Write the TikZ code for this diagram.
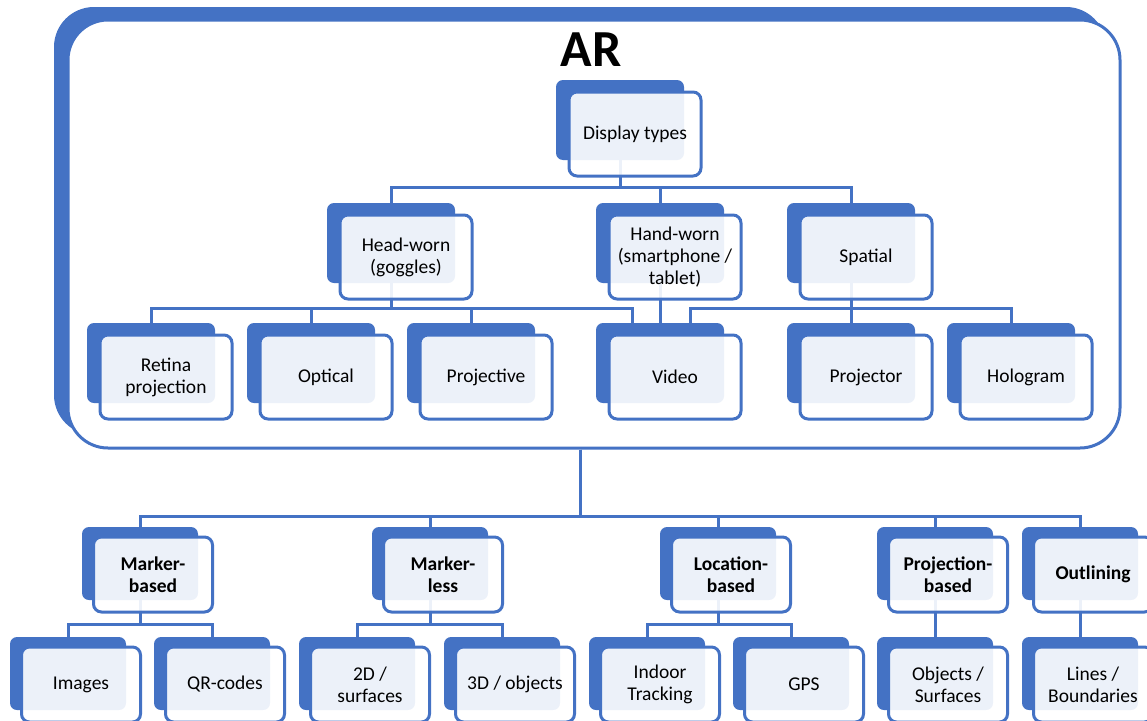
\documentclass[tikz,border=0pt]{standalone}
\usepackage{fontspec}
\setmainfont{Carlito}
\usetikzlibrary{positioning}
\definecolor{arblue}{HTML}{4472C4}
\tikzset{
  backtile/.style={rectangle, rounded corners=7, fill=arblue, inner sep=0,
                   minimum width=128, minimum height=80},
  fronttile/.style={rectangle, rounded corners=8, draw=arblue, line width=3,
                    fill=white, fill opacity=0.9, text opacity=1, inner sep=0,
                    minimum width=132, minimum height=84, align=center,
                    font=\fontsize{19.5}{22}\selectfont},
  smallback/.style={backtile, minimum width=116, minimum height=73},
  smallfront/.style={fronttile, minimum width=119, minimum height=75},
  boldtext/.style={font=\fontsize{19.5}{22}\selectfont\bfseries},
  link/.style={draw=arblue, line width=3}
}
\begin{document}
\begin{tikzpicture}[x=1pt, y=-1pt]
\useasboundingbox (0,0) rectangle (1147,720);
% the big AR frame
\node[rectangle, rounded corners=40, fill=arblue, minimum width=1052,
      minimum height=428] (arback) at (580,221) {};
\node[rectangle, rounded corners=40, fill=white, draw=arblue, line width=3,
      minimum width=1052, minimum height=428] (ar) at (594,234) {};
\node[font=\fontsize{52}{52}\selectfont\bfseries] (title) at (591,50) {AR};
% back tiles
\foreach \n/\x/\y in {disp/620/120, head/391/243, hand/660/243, spat/851/243,
                      retina/151/363, optic/311/363, projv/471/363,
                      video/660/363, projr/851/363, holo/1011/363}
  \node[backtile] (\n) at (\x,\y) {};
\foreach \n/\x/\y in {mbased/140/563.5, mless/430/563.5, lbased/718/563.5,
                      pbased/935/563.5, outl/1080/563.5,
                      images/68/673.5, qr/212/673.5, surf/357/673.5,
                      objs/502/673.5, indoor/647/673.5, gps/791/673.5,
                      objsurf/935/673.5, lines/1080/673.5}
  \node[smallback] (\n) at (\x,\y) {};
% connectors, display types
\foreach \c in {head, hand, spat}
  \draw[link] (disp.south) -- ++(0,27) -| (\c.north);
\foreach \c in {retina, optic, projv}
  \draw[link] (head.south) -- ++(0,25) -| (\c.north);
\draw[link] (head.south) -- ++(0,25) -| ([xshift=-28]video.north);
\draw[link] (hand.south) -- (video.north);
\draw[link] (spat.south) -- (projr.north);
\draw[link] (spat.south) -- ++(0,25) -| (holo.north);
\draw[link] (spat.south) -- ++(0,25) -| ([xshift=30]video.north);
% connectors, tracking
\foreach \c in {mbased, mless, lbased, pbased, outl}
  \draw[link] (arback.south |- ar.south) -- ++(0,67) -| (\c.north);
\foreach \p/\c in {mbased/images, mbased/qr, mless/surf, mless/objs,
                   lbased/indoor, lbased/gps}
  \draw[link] (\p.south) -- ++(0,24) -| (\c.north);
\draw[link] (pbased.south) -- (objsurf.north);
\draw[link] (outl.south) -- (lines.north);
% front tiles
\node[fronttile] (disp-t) at ([shift={(15,14)}]disp.center) {Display types};
\node[fronttile] (head-t) at ([shift={(15,14)}]head.center) {Head-worn\\(goggles)};
\node[fronttile] (hand-t) at ([shift={(15,14)}]hand.center) {Hand-worn\\(smartphone /\\tablet)};
\node[fronttile] (spat-t) at ([shift={(15,14)}]spat.center) {Spatial};
\node[fronttile] (retina-t) at ([shift={(15,14)}]retina.center) {Retina\\projection};
\node[fronttile] (optic-t) at ([shift={(15,14)}]optic.center) {Optical};
\node[fronttile] (projv-t) at ([shift={(15,14)}]projv.center) {Projective};
\node[fronttile] (video-t) at ([shift={(15,14)}]video.center) {Video};
\node[fronttile] (projr-t) at ([shift={(15,14)}]projr.center) {Projector};
\node[fronttile] (holo-t) at ([shift={(15,14)}]holo.center) {Hologram};
\node[smallfront, boldtext] (mbased-t) at ([shift={(13,11)}]mbased.center) {Marker-\\based};
\node[smallfront, boldtext] (mless-t) at ([shift={(13,11)}]mless.center) {Marker-\\less};
\node[smallfront, boldtext] (lbased-t) at ([shift={(13,11)}]lbased.center) {Location-\\based};
\node[smallfront, boldtext] (pbased-t) at ([shift={(13,11)}]pbased.center) {Projection-\\based};
\node[smallfront, boldtext] (outl-t) at ([shift={(13,11)}]outl.center) {Outlining};
\node[smallfront] (images-t) at ([shift={(13,11)}]images.center) {Images};
\node[smallfront] (qr-t) at ([shift={(13,11)}]qr.center) {QR-codes};
\node[smallfront] (surf-t) at ([shift={(13,11)}]surf.center) {2D /\\surfaces};
\node[smallfront] (objs-t) at ([shift={(13,11)}]objs.center) {3D / objects};
\node[smallfront] (indoor-t) at ([shift={(13,11)}]indoor.center) {Indoor\\Tracking};
\node[smallfront] (gps-t) at ([shift={(13,11)}]gps.center) {GPS};
\node[smallfront] (objsurf-t) at ([shift={(13,11)}]objsurf.center) {Objects /\\Surfaces};
\node[smallfront] (lines-t) at ([shift={(13,11)}]lines.center) {Lines /\\Boundaries};
\end{tikzpicture}
\end{document}
